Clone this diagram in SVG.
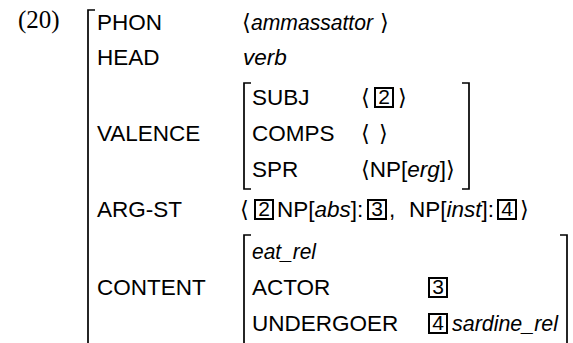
<svg xmlns="http://www.w3.org/2000/svg" width="573" height="343" viewBox="0 0 573 343">
  <style>
    text { font-family: "Liberation Sans", Arial, sans-serif; font-size: 22.5px; fill: #000; }
    .num { font-family: "Liberation Serif", "Times New Roman", serif; font-size: 25px; }
    .it { font-style: italic; }
    .ang { font-family: "DejaVu Sans", sans-serif; }
    .d { text-anchor: middle; font-size: 21px; }
    .br { fill: none; stroke: #000; stroke-width: 1.7; }
    .tag { fill: none; stroke: #000; stroke-width: 2; }
  </style>
  <rect width="573" height="343" fill="#fff"/>

  <!-- example number -->
  <text class="num" x="18" y="28">(20)</text>

  <!-- outer AVM -->
  <g id="avm-outer">
    <path class="br" d="M95,10 H88 V343"/>
    <text x="97" y="30">PHON</text>
    <text class="ang" x="242" y="30">⟨</text>
    <text class="it" x="251" y="30" textLength="122" lengthAdjust="spacingAndGlyphs">ammassattor</text>
    <text class="ang" x="380" y="30">⟩</text>
    <text x="97" y="65">HEAD</text>
    <text class="it" x="243" y="65">verb</text>
    <text x="97" y="141">VALENCE</text>
    <text x="97" y="217">ARG-ST</text>
    <text x="97" y="295">CONTENT</text>
  </g>

  <!-- VALENCE value -->
  <g id="avm-valence">
    <path class="br" d="M251,83 H244 V189 H251"/>
    <path class="br" d="M462,83 H469 V189 H462"/>
    <text x="252" y="105">SUBJ</text>
    <text class="ang" x="361" y="105">⟨</text>
    <rect class="tag" x="375" y="88" width="18" height="19"/>
    <text class="d" x="384" y="104">2</text>
    <text class="ang" x="398" y="105">⟩</text>
    <text x="252" y="141">COMPS</text>
    <text class="ang" x="361" y="141">⟨</text>
    <text class="ang" x="379" y="141">⟩</text>
    <text x="252" y="177">SPR</text>
    <text x="361" y="177"><tspan class="ang">⟨</tspan>NP[<tspan class="it">erg</tspan>]<tspan class="ang">⟩</tspan></text>
  </g>

  <!-- ARG-ST value -->
  <g id="avm-argst">
    <text class="ang" x="240" y="217">⟨</text>
    <rect class="tag" x="255" y="200" width="18" height="19"/>
    <text class="d" x="264" y="216">2</text>
    <text x="277" y="217">NP[<tspan class="it">abs</tspan>]:</text>
    <rect class="tag" x="368" y="200" width="18" height="19"/>
    <text class="d" x="377" y="216">3</text>
    <text x="389" y="217">,</text>
    <text x="409" y="217">NP[<tspan class="it">inst</tspan>]:</text>
    <rect class="tag" x="498" y="200" width="18" height="19"/>
    <text class="d" x="507" y="216">4</text>
    <text class="ang" x="520" y="217">⟩</text>
  </g>

  <!-- CONTENT value -->
  <g id="avm-content">
    <path class="br" d="M251,235 H244 V343"/>
    <path class="br" d="M560,235 H567 V343"/>
    <text class="it" x="252" y="259" textLength="64" lengthAdjust="spacingAndGlyphs">eat_rel</text>
    <text x="252" y="295">ACTOR</text>
    <rect class="tag" x="429" y="278" width="18" height="19"/>
    <text class="d" x="438" y="294">3</text>
    <text x="252" y="331">UNDERGOER</text>
    <rect class="tag" x="429" y="314" width="18" height="19"/>
    <text class="d" x="438" y="330">4</text>
    <text class="it" x="452" y="331" textLength="106" lengthAdjust="spacingAndGlyphs">sardine_rel</text>
  </g>
</svg>
